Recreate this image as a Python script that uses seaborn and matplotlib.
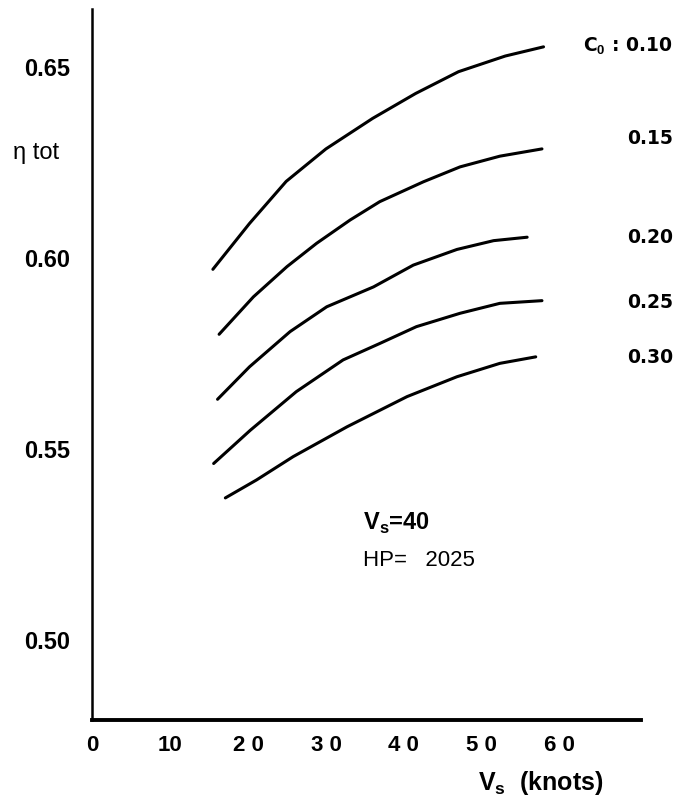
import numpy as np
import pandas as pd
import matplotlib
matplotlib.use('Agg')
import matplotlib.pyplot as plt
import seaborn as sns

# curve data: ship speed V_s (knots) vs total efficiency
v_010 = [15.5, 20.2, 24.9, 30.0, 36.0, 41.5, 47.0, 53.0, 57.9]
eta_010 = [0.597, 0.609, 0.620, 0.6285, 0.6365, 0.643, 0.6487, 0.6528, 0.6552]
v_015 = [16.3, 20.7, 25.0, 28.8, 33.1, 36.9, 42.5, 47.2, 52.3, 57.7]
eta_015 = [0.580, 0.5898, 0.5977, 0.6038, 0.6099, 0.6147, 0.6199, 0.6238, 0.6266, 0.6285]
v_020 = [16.1, 20.2, 25.4, 30.1, 36.1, 41.2, 46.8, 51.5, 55.8]
eta_020 = [0.563, 0.5715, 0.5807, 0.5872, 0.5924, 0.5981, 0.6022, 0.6045, 0.6054]
v_025 = [15.6, 20.3, 26.2, 32.2, 36.9, 41.6, 47.2, 52.3, 57.7]
eta_025 = [0.5462, 0.5549, 0.565, 0.5733, 0.5776, 0.582, 0.5855, 0.5881, 0.5888]
v_030 = [17.1, 21.1, 25.8, 32.7, 40.4, 46.8, 52.3, 56.9]
eta_030 = [0.5372, 0.5419, 0.548, 0.5558, 0.5637, 0.5689, 0.5724, 0.5741]

curve_labels = [r'C$_\mathbf{0}$ : 0.10', '0.15', '0.20', '0.25', '0.30']
label_eta = [0.6552, 0.6311, 0.6052, 0.5884, 0.5740]

x_ticks = [0, 10, 20, 30, 40, 50, 60]
x_ticklabels = ['0', '10', '2 0', '3 0', '4 0', '5 0', '6 0']
y_ticks = [0.50, 0.55, 0.60, 0.65]
y_ticklabels = ['0.50', '0.55', '0.60', '0.65']

series = [(v_010, eta_010), (v_015, eta_015), (v_020, eta_020),
          (v_025, eta_025), (v_030, eta_030)]

# long-form table for seaborn
df = pd.concat([pd.DataFrame({'Vs': v, 'eta': e, 'C0': name})
                for (v, e), name in zip(series, ['0.10', '0.15', '0.20', '0.25', '0.30'])],
               ignore_index=True)

sns.set_style('white')
plt.rcParams['font.family'] = ['Liberation Sans', 'DejaVu Sans']
plt.rcParams['mathtext.fontset'] = 'custom'
plt.rcParams['mathtext.rm'] = 'Liberation Sans'
plt.rcParams['mathtext.bf'] = 'Liberation Sans:bold'
plt.rcParams['text.color'] = 'black'
plt.rcParams['xtick.color'] = 'black'
plt.rcParams['ytick.color'] = 'black'
plt.rcParams['axes.labelcolor'] = 'black'

fig = plt.figure(figsize=(6.82, 8.02), dpi=100)
ax = fig.add_axes([92 / 682, 1 - 720 / 802, (641 - 92) / 682, (720 - 9) / 802])

sns.lineplot(data=df, x='Vs', y='eta', hue='C0', units='C0', estimator=None,
             palette=['black'] * 5, linewidth=2.2, legend=False, ax=ax, sort=True)
for ln in ax.lines:
    ln.set_solid_joinstyle('round')
    ln.set_solid_capstyle('round')

ax.set_xlim(0, 70.4)
ax.set_ylim(0.4791, 0.6651)

ax.set_xticks(x_ticks)
ax.set_xticklabels(x_ticklabels, fontsize=16, fontweight='bold')
ax.set_yticks(y_ticks)
ax.set_yticklabels(y_ticklabels, fontsize=17, fontweight='bold')
ax.tick_params(axis='x', direction='out', length=7, width=1.3, pad=4, color='black')
ax.tick_params(axis='y', length=0, pad=16)
ax.xaxis.get_major_ticks()[0].tick1line.set_visible(False)

for side in ['top', 'right']:
    ax.spines[side].set_visible(False)
ax.spines['left'].set_linewidth(1.8)
ax.spines['bottom'].set_linewidth(2.8)
ax.spines['left'].set_color('black')
ax.spines['bottom'].set_color('black')
ax.set_xlabel('')
ax.set_ylabel('')

# curve labels on the right
for lab, y in zip(curve_labels, label_eta):
    ax.text(74.5, y, lab, ha='right', va='center', fontsize=13.5, fontweight='bold',
            family='DejaVu Sans', clip_on=False)

ax.text(34.7, 0.5306, r'V$_\mathbf{s}$=40', ha='left', va='center', fontsize=17,
        fontweight='bold', family='Liberation Sans')
ax.text(34.7, 0.5209, 'HP=   2025', ha='left', va='center', fontsize=16,
        family='Liberation Sans')

fig.text(13 / 682, 1 - 153 / 802, 'η tot', ha='left', va='center', fontsize=17,
         family='Liberation Sans')
fig.text(541 / 682, 1 - 783 / 802, r'V$_\mathbf{s}$  (knots)', ha='center', va='center',
         fontsize=18, fontweight='bold', family='Liberation Sans')

fig.savefig('out.png', dpi=100, facecolor='white')
